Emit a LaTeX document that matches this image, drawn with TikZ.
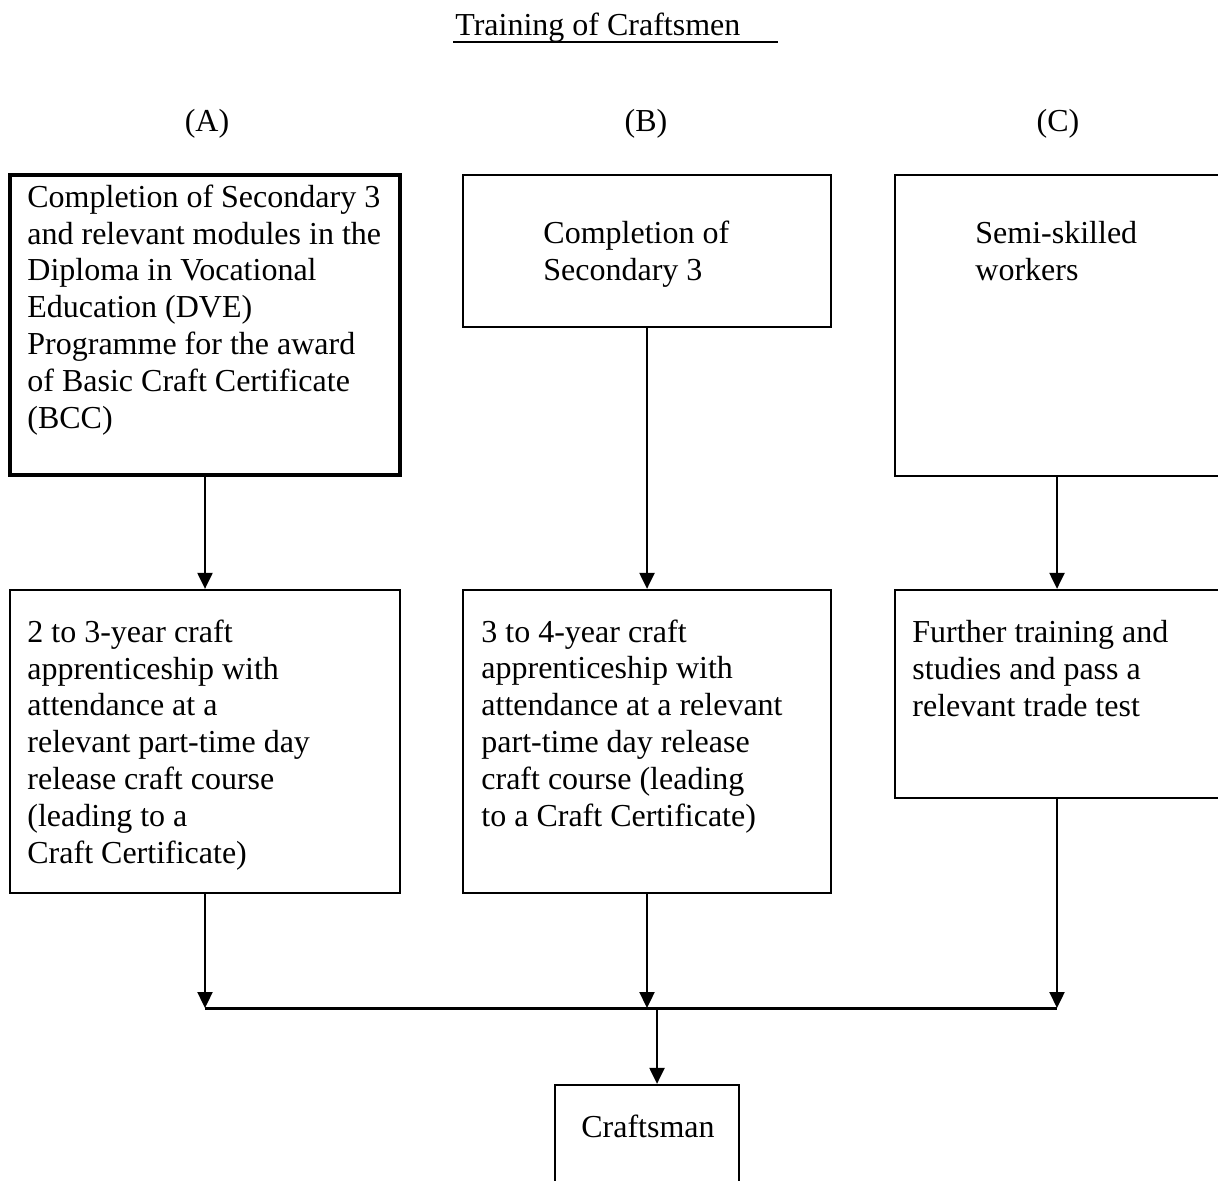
\documentclass[tikz,border=0pt]{standalone}
\usepackage{fontspec}
\setmainfont{Liberation Serif}
\usetikzlibrary{arrows.meta}
\begin{document}
\begin{tikzpicture}[x=0.5pt,y=-0.5pt,
  every node/.style={font=\fontsize{16}{18.4}\selectfont},
  box/.style={draw,line width=1.15pt,rectangle,inner sep=0pt},
  thickbox/.style={box,line width=2pt},
  txt/.style={anchor=base west,align=left,inner sep=0pt},
  arr/.style={line width=1.1pt,-{Triangle[length=8pt,width=7.5pt]}},
  joinline/.style={line width=1.5pt}]
\useasboundingbox (0,0) rectangle (1218,1180);
% title
\node[anchor=base west,inner sep=0pt] (title) at (455,35) {Training of Craftsmen};
\coordinate (ul1) at (453,42);
\coordinate (ul2) at (778,42);
\draw[line width=1.3pt] (ul1) -- (ul2);
% column labels
\node[anchor=base,inner sep=0pt] (labA) at (207,131) {(A)};
\node[anchor=base,inner sep=0pt] (labB) at (646,131) {(B)};
\node[anchor=base,inner sep=0pt] (labC) at (1058,131) {(C)};
% first row boxes
\node[thickbox,minimum width=195pt,minimum height=150pt] (a1) at (205,325) {};
\node[box,minimum width=184pt,minimum height=76pt] (b1) at (647,251) {};
\node[box,minimum width=162pt,minimum height=150.5pt] (c1) at (1057,325.5) {};
% second row boxes
\node[box,minimum width=195pt,minimum height=151.5pt] (a2) at (205,741.5) {};
\node[box,minimum width=184pt,minimum height=151.5pt] (b2) at (647,741.5) {};
\node[box,minimum width=162pt,minimum height=104pt] (c2) at (1057,694) {};
% final box
\node[box,minimum width=92pt,minimum height=57.5pt] (cm) at (647,1142.5) {};
% texts (anchored at the baseline of their last line)
\node[txt] (ta1) at (27,428) {Completion of Secondary 3\\and relevant modules in the\\Diploma in Vocational\\Education (DVE)\\Programme for the award\\of Basic Craft Certificate\\(BCC)};
\node[txt] (tb1) at (543,280) {Completion of\\Secondary 3};
\node[txt] (tc1) at (975,280) {Semi-skilled\\workers};
\node[txt] (ta2) at (27,863) {2 to 3-year craft\\apprenticeship with\\attendance at a\\relevant part-time day\\release craft course\\(leading to a\\Craft Certificate)};
\node[txt] (tb2) at (481,826) {3 to 4-year craft\\apprenticeship with\\attendance at a relevant\\part-time day release\\craft course (leading\\to a Craft Certificate)};
\node[txt] (tc2) at (912,716) {Further training and\\studies and pass a\\relevant trade test};
\node[anchor=base,inner sep=0pt] (tcm) at (648,1137) {Craftsman};
% connectors
\draw[arr] (a1.south) -- (a2.north);
\draw[arr] (b1.south) -- (b2.north);
\draw[arr] (c1.south) -- (c2.north);
\coordinate (jl) at (205,1008);
\coordinate (jr) at (1057,1008);
\coordinate (jm) at (657,1008);
\draw[arr] (a2.south) -- (a2.south |- jl);
\draw[arr] (b2.south) -- (b2.south |- jl);
\draw[arr] (c2.south) -- (c2.south |- jl);
\draw[joinline] (jl) -- (jr);
\draw[arr] (jm) -- (jm |- cm.north);
\end{tikzpicture}
\end{document}
